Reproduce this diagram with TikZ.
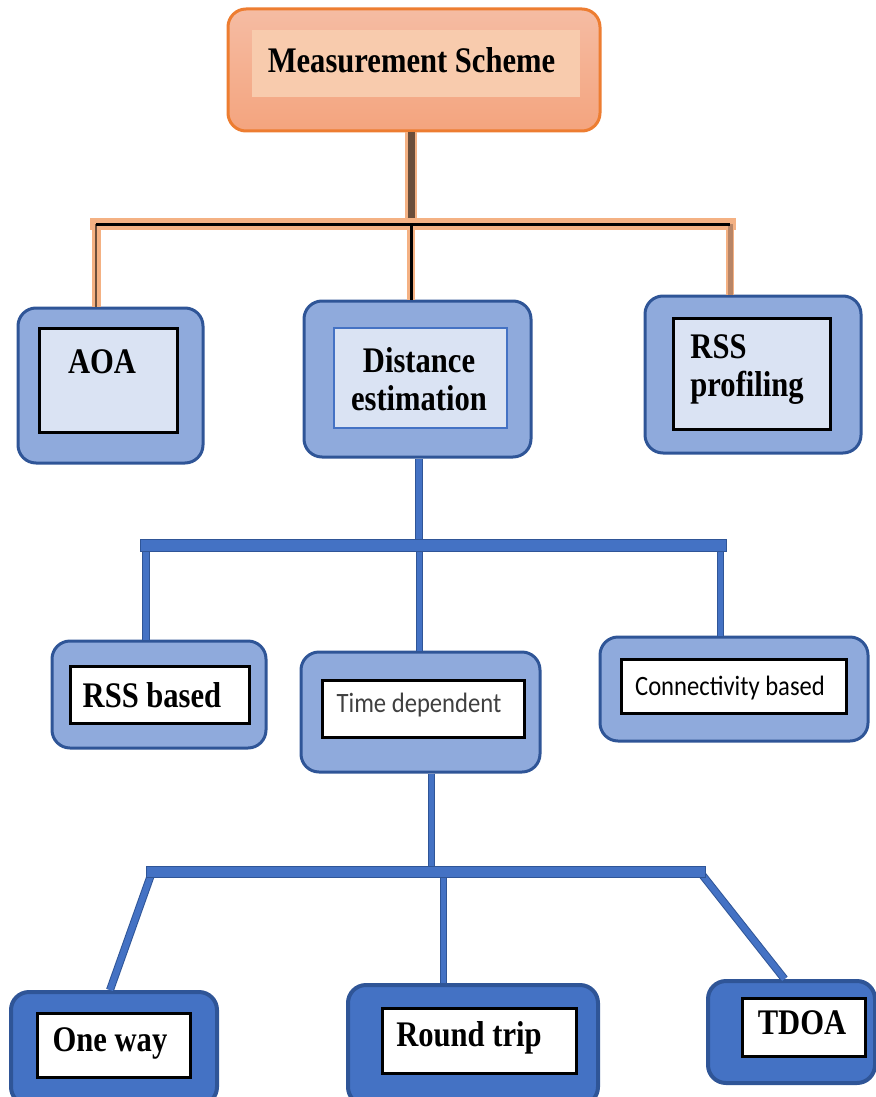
\documentclass[tikz,border=0pt]{standalone}
\usepackage{fontspec}
\setmainfont{Liberation Serif}
\newfontfamily\boxfont[FakeStretch=0.85]{Liberation Serif}
\newfontfamily\calfont[FakeStretch=0.88]{Carlito}
\usepackage{tikz}
\definecolor{orangeline}{HTML}{ED7D31}
\definecolor{peachtop}{HTML}{F5BCA3}
\definecolor{peachbot}{HTML}{F4A47E}
\definecolor{peachin}{HTML}{F8CBAD}
\definecolor{peachline}{HTML}{F4B183}
\definecolor{brownline}{HTML}{6B4E3A}
\definecolor{tanline}{HTML}{B88566}
\definecolor{bluefill}{HTML}{8FAADC}
\definecolor{bluedark}{HTML}{2F5597}
\definecolor{bluemid}{HTML}{4472C4}
\definecolor{bluepale}{HTML}{DAE3F3}
\definecolor{greytext}{HTML}{404040}

\begin{document}
\begin{tikzpicture}[x=0.5pt,y=-0.5pt]
   \useasboundingbox (0,0) rectangle (876,1097);
   \tikzstyle{box}=[rectangle, rounded corners=9pt, draw=bluedark, line width=1.5pt, fill=bluefill]
   \tikzstyle{inbox}=[rectangle, draw=black, line width=1.5pt, fill=white]
   \tikzstyle{word}=[inner sep=0pt, font=\boxfont\bfseries\fontsize{18}{19}\selectfont]
   \tikzstyle{calword}=[inner sep=0pt, font=\calfont\fontsize{14}{15}\selectfont]
   \tikzstyle{bluebar}=[draw=bluedark, double=bluemid, line width=0.5pt]
   % top node
   \node[rectangle, rounded corners=9pt, draw=orangeline, line width=1.5pt, top color=peachtop, bottom color=peachbot, minimum width=186pt, minimum height=61pt] (scheme) at (414,70) {};
   \node[rectangle, fill=peachin, minimum width=164pt, minimum height=33.5pt] (scheme-in) at (416,63.5) {};
   \node[word] (scheme-txt) at (411.5,60) {Measurement Scheme};
   % boxes
   \foreach \name/\cx/\cy/\w/\h in {aoa/110.5/385.5/92.5/77.5, dist/417.5/379/113.5/78, rssp/753/374.5/108/78.5, rssb/159/694.5/107/53.5, td/420.5/712/119.5/60, conn/734/689/134/52}
       \node[box, minimum width=\w pt, minimum height=\h pt] (\name) at (\cx,\cy) {};
   \foreach \name/\cx/\cy/\w/\h in {oneway/114/1048.5/103/56.5, round/473/1045/125/60, tdoa/791.5/1032/83.5/51}
       \node[box, fill=bluemid, line width=2pt, minimum width=\w pt, minimum height=\h pt] (\name) at (\cx,\cy) {};
   \foreach \name/\cx/\cy/\w/\h/\col in {aoa/108/380/69/52/bluepale, rssp/751.5/373.5/78.5/55.5/bluepale, rssb/159.5/694.5/89.5/28.5/white, td/423/708.5/101/28.5/white, conn/733.5/686/112.5/27/white, oneway/113.5/1045/76.5/32/white, round/479/1040.5/97/32.5/white, tdoa/803.5/1027/61.5/29/white}
       \node[inbox, fill=\col, minimum width=\w pt, minimum height=\h pt] (\name-in) at (\cx,\cy) {};
   \node[inbox, draw=bluemid, line width=1pt, fill=bluepale, minimum width=86.5pt, minimum height=50pt] (dist-in) at (420.5,378) {};
   % labels
   \node[word] (aoa-txt) at (102,362) {AOA};
   \node[word, align=center] (dist-txt) at (419,379) {Distance\\estimation};
   \node[word, align=left, anchor=west] (rssp-txt) at (690,370) {RSS\\profiling};
   \node[word] (rssb-txt) at (152,695) {RSS based};
   \node[calword, text=greytext] (td-txt) at (419,705) {Time dependent};
   \node[calword] (conn-txt) at (730,688) {Connectivity based};
   \node[word] (oneway-txt) at (110,1043) {One way};
   \node[word] (round-txt) at (469,1038) {Round trip};
   \node[word] (tdoa-txt) at (802,1023) {TDOA};
   % first level
   \coordinate (j1) at (411,224);
   \coordinate (j1l) at (96,224);
   \coordinate (j1r) at (730,224);
   \draw[peachline, line width=4.5pt] (j1l) -- (j1l |- aoa.north);
   \draw[peachline, line width=4pt] (j1) -- (j1 |- dist.north);
   \draw[peachline, line width=4pt] (j1r) -- (j1r |- rssp.north);
   \draw[peachline, line width=6pt, line cap=rect] (j1l) -- (j1r);
   \draw[peachline, line width=6pt] (j1 |- scheme.south) -- (j1);
   \draw[brownline, line width=1.2pt] (j1l) -- (j1l |- aoa.north);
   \draw[black, line width=1.5pt] (j1) -- (j1 |- dist.north);
   \draw[tanline, line width=2.5pt] (j1r) -- (j1r |- rssp.north);
   \draw[black, line width=1.5pt] (j1l) -- (j1r);
   \draw[brownline, line width=3.5pt] (j1 |- scheme.south) -- ([yshift=3pt]j1);
   % second level
   \coordinate (j2) at (419,545);
   \coordinate (j2l) at (146,545);
   \coordinate (j2r) at (720,545);
   \draw[bluebar, double distance=3pt] (j2 |- dist.south) -- (j2);
   \draw[bluebar, double distance=3pt] (j2l) -- (j2l |- rssb.north);
   \draw[bluebar, double distance=2.5pt] (j2) -- (j2 |- td.north);
   \draw[bluebar, double distance=2.5pt] (j2r) -- (j2r |- conn.north);
   \draw[bluebar, double distance=5.5pt, line cap=rect] (j2l) -- (j2r);
   % third level
   \coordinate (j3) at (431,872);
   \coordinate (j3l) at (152,872);
   \coordinate (j3m) at (443,872);
   \coordinate (j3r) at (700,872);
   \draw[bluebar, double distance=2.5pt] (j3 |- td.south) -- (j3);
   \draw[bluebar, double distance=3pt] (j3l) -- ([xshift=-2pt]oneway.north);
   \draw[bluebar, double distance=2.5pt] (j3m) -- (j3m |- round.north);
   \draw[bluebar, double distance=3pt] (j3r) -- ([xshift=-3.5pt]tdoa.north);
   \draw[bluebar, double distance=5pt, line cap=rect] (j3l) -- (j3r);
\end{tikzpicture}
\end{document}
